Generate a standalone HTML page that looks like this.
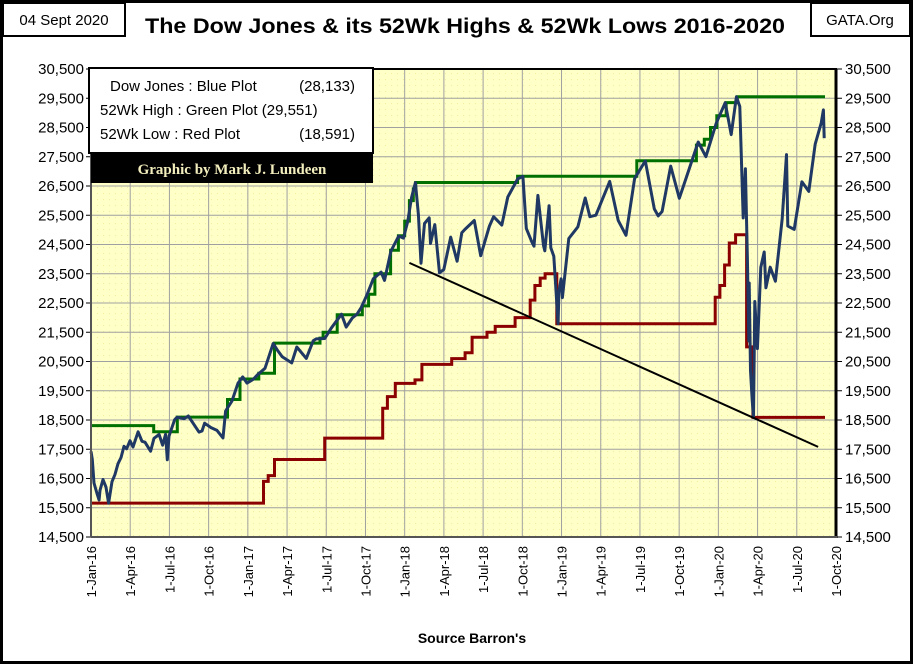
<!DOCTYPE html>
<html><head><meta charset="utf-8">
<style>
html,body{margin:0;padding:0;background:#fff;}
body{width:913px;height:664px;overflow:hidden;font-family:"Liberation Sans",sans-serif;}
</style></head>
<body>
<svg id="chart" width="913" height="664" viewBox="0 0 913 664" xmlns="http://www.w3.org/2000/svg">
<defs>
<pattern id="dots" width="6" height="6" patternUnits="userSpaceOnUse"><rect width="6" height="6" fill="#ffffc8"/><circle cx="1.5" cy="1.5" r="0.6" fill="#f2efa0"/></pattern>
</defs>
<rect x="1.5" y="1.5" width="910" height="661" fill="#fff" stroke="#000" stroke-width="3"/>
<rect x="91" y="69" width="745" height="468" fill="url(#dots)"/>
<g id="grid"></g>
<g id="yl"></g>
<g id="yr"></g>
<g id="xl"></g>
<g id="series"></g>
<line x1="91" y1="69" x2="837" y2="69" stroke="#000" stroke-width="2"/>
<line x1="91" y1="69" x2="91" y2="537" stroke="#555" stroke-width="2"/>
<line x1="836" y1="69" x2="836" y2="538" stroke="#000" stroke-width="3"/>
<line x1="91" y1="537" x2="837" y2="537" stroke="#555" stroke-width="2"/>
<g>
<rect x="89" y="68" width="284" height="85" fill="#fff" stroke="#000" stroke-width="2"/>
<g font-family="'Liberation Sans Narrow','Liberation Sans',sans-serif" font-size="15" fill="#000">
<text x="110" y="91">Dow Jones : Blue Plot</text>
<text x="355" y="91" text-anchor="end">(28,133)</text>
<text x="100" y="115">52Wk High : Green Plot (29,551)</text>
<text x="100" y="139">52Wk Low  : Red Plot</text>
<text x="355" y="139" text-anchor="end">(18,591)</text>
</g>
<rect x="91" y="153" width="282" height="30" fill="#000"/>
<text x="232" y="174" text-anchor="middle" font-family="'Liberation Serif',serif" font-weight="bold" font-size="15" fill="#f3eebd">Graphic by Mark J. Lundeen</text>
</g>
<rect x="3" y="3" width="122" height="33" fill="#fff" stroke="#000" stroke-width="2"/>
<text x="64" y="25" text-anchor="middle" font-size="15">04 Sept 2020</text>
<rect x="811" y="3" width="99" height="33" fill="#fff" stroke="#000" stroke-width="2"/>
<text x="860" y="25" text-anchor="middle" font-size="15">GATA.Org</text>
<text x="465" y="33" text-anchor="middle" font-size="21" font-weight="bold" textLength="640" lengthAdjust="spacingAndGlyphs">The Dow Jones &amp; its 52Wk Highs &amp; 52Wk Lows 2016-2020</text>
<text x="472" y="643" text-anchor="middle" font-size="14" font-weight="bold">Source Barron's</text>
</svg>
<script>
const yTicks=[14500,15500,16500,17500,18500,19500,20500,21500,22500,23500,24500,25500,26500,27500,28500,29500,30500];
const xTickLabels=["1-Jan-16","1-Apr-16","1-Jul-16","1-Oct-16","1-Jan-17","1-Apr-17","1-Jul-17","1-Oct-17","1-Jan-18","1-Apr-18","1-Jul-18","1-Oct-18","1-Jan-19","1-Apr-19","1-Jul-19","1-Oct-19","1-Jan-20","1-Apr-20","1-Jul-20","1-Oct-20"];
const dowDates=["2016-01-01","2016-01-04","2016-01-08","2016-01-15","2016-01-20","2016-01-22","2016-01-29","2016-02-05","2016-02-11","2016-02-19","2016-02-26","2016-03-04","2016-03-11","2016-03-18","2016-03-24","2016-04-01","2016-04-08","2016-04-20","2016-04-29","2016-05-06","2016-05-19","2016-05-27","2016-06-08","2016-06-16","2016-06-23","2016-06-27","2016-07-01","2016-07-14","2016-07-20","2016-08-05","2016-08-15","2016-08-26","2016-09-09","2016-09-16","2016-09-22","2016-10-07","2016-10-21","2016-11-04","2016-11-10","2016-11-25","2016-12-09","2016-12-20","2016-12-30","2017-01-13","2017-01-25","2017-02-10","2017-03-01","2017-03-10","2017-03-22","2017-04-13","2017-04-25","2017-05-17","2017-06-02","2017-06-09","2017-06-29","2017-07-14","2017-08-07","2017-08-18","2017-09-01","2017-09-12","2017-09-22","2017-10-05","2017-10-20","2017-11-07","2017-11-15","2017-11-30","2017-12-18","2017-12-29","2018-01-08","2018-01-17","2018-01-26","2018-02-02","2018-02-08","2018-02-16","2018-02-27","2018-03-02","2018-03-12","2018-03-23","2018-04-02","2018-04-18","2018-05-03","2018-05-14","2018-05-21","2018-06-12","2018-06-27","2018-07-17","2018-07-27","2018-08-15","2018-08-29","2018-09-21","2018-10-03","2018-10-11","2018-10-24","2018-10-29","2018-11-07","2018-11-20","2018-11-23","2018-12-03","2018-12-07","2018-12-14","2018-12-24","2018-12-26","2018-12-31","2019-01-03","2019-01-18","2019-02-08","2019-02-25","2019-03-08","2019-03-22","2019-04-23","2019-05-13","2019-05-31","2019-06-20","2019-07-15","2019-08-05","2019-08-14","2019-08-23","2019-09-12","2019-10-02","2019-10-18","2019-11-15","2019-12-03","2019-12-27","2020-01-17","2020-01-31","2020-02-12","2020-02-20","2020-02-28","2020-03-04","2020-03-09","2020-03-12","2020-03-13","2020-03-16","2020-03-20","2020-03-23","2020-03-26","2020-04-01","2020-04-09","2020-04-17","2020-04-21","2020-05-01","2020-05-13","2020-05-29","2020-06-08","2020-06-11","2020-06-26","2020-07-14","2020-07-30","2020-08-14","2020-08-28","2020-09-02","2020-09-04"];
const dowValues=[17425,17149,16346,15988,15766,16093,16466,16204,15660,16392,16639,17006,17213,17602,17515,17792,17577,18096,17773,17740,17435,17873,18005,17640,18011,17140,17949,18506,18595,18543,18636,18395,18085,18123,18392,18240,18145,17888,18807,19152,19757,19974,19763,19885,20069,20269,21115,20903,20661,20453,20996,20607,21206,21272,21287,21638,22118,21675,21988,22118,22350,22775,23329,23557,23272,24272,24792,24719,25283,26116,26616,25521,23860,25219,25410,24538,25179,23533,23644,24748,23930,24900,25013,25320,24117,25119,25451,25162,26124,26743,26828,25052,24583,24443,26180,24465,24286,25826,24389,24100,21792,22878,23327,22686,24706,25106,26091,25450,25502,26656,25324,24815,26753,27359,25717,25479,25628,27182,26078,26770,28004,27503,28645,29348,28256,29551,29219,25409,27091,23851,21200,23185,20189,19174,18592,22552,20943,23719,24242,23019,23724,23247,25383,27572,25128,25016,26643,26314,27931,28654,29100,28133];
const highYears=[2016.0,2016.38,2016.40,2016.52,2016.55,2016.84,2016.87,2016.95,2017.07,2017.17,2017.43,2017.46,2017.48,2017.57,2017.69,2017.73,2017.77,2017.81,2017.91,2017.96,2018.0,2018.03,2018.055,2018.07,2018.72,2019.48,2019.83,2019.86,2019.91,2019.95,2019.99,2020.05,2020.12,2020.68];
const highValues=[18310,18310,18100,18100,18600,18600,19200,19900,20100,21130,21130,21300,21500,22100,22100,22400,22800,23500,24300,24800,25300,26000,26400,26620,26830,27360,27360,27900,28100,28500,28900,29350,29550,29550];
const lowYears=[2016.0,2017.10,2017.13,2017.17,2017.49,2017.86,2017.89,2017.94,2018.066,2018.11,2018.30,2018.385,2018.43,2018.525,2018.577,2018.704,2018.80,2018.83,2018.864,2018.895,2018.97,2019.98,2020.01,2020.04,2020.07,2020.11,2020.18,2020.22,2020.68];
const lowValues=[15660,16400,16600,17150,17880,18900,19300,19750,19870,20400,20600,20800,21330,21500,21700,22000,22600,23100,23350,23500,21790,22700,23100,23800,24550,24830,21000,18590,18590];
const trendYears=[2018.03,2020.636];
const trendValues=[23870,17580];

const NS="http://www.w3.org/2000/svg";
const X0=91,X1=836,Y0=69,Y1=537,T0=2016,T1=2020.75,V0=14500,V1=30500;
function tYear(s){const p=s.split("-").map(Number);const d0=Date.UTC(p[0],0,1),d1=Date.UTC(p[0]+1,0,1);return p[0]+(Date.UTC(p[0],p[1]-1,p[2])-d0)/(d1-d0);}
function xs(t){return X0+(t-T0)/(T1-T0)*(X1-X0);}
function ys(v){return Y1-(v-V0)/(V1-V0)*(Y1-Y0);}
function mk(tag,attrs,parent){const e=document.createElementNS(NS,tag);for(const k in attrs)e.setAttribute(k,attrs[k]);parent.appendChild(e);return e;}
const grid=document.getElementById("grid"),yl=document.getElementById("yl"),yr=document.getElementById("yr"),xl=document.getElementById("xl"),ser=document.getElementById("series");
yTicks.forEach(v=>{
  const y=ys(v);
  const g=mk("line",{x1:X0,x2:X1,y1:y,y2:y,stroke:"#a0a0a0","stroke-width":1},grid);
  
  
  const t1=mk("text",{x:84,y:y+5,"text-anchor":"end","font-size":15,"font-family":"'Liberation Sans Narrow','Liberation Sans',sans-serif"},yl);
  t1.textContent=v.toLocaleString("en-US");
  
  
  mk("line",{x1:86,x2:91,y1:y,y2:y,stroke:"#000"},yl);
  const t2=mk("text",{x:845,y:y+5,"text-anchor":"start","font-size":15,"font-family":"'Liberation Sans Narrow','Liberation Sans',sans-serif"},yr);
  t2.textContent=v.toLocaleString("en-US");
  
  
  mk("line",{x1:836,x2:842,y1:y,y2:y,stroke:"#000"},yr);
});
xTickLabels.forEach((lab,i)=>{
  const x=xs(T0+i*0.25);
  const g=mk("line",{x1:x,x2:x,y1:Y0,y2:Y1,stroke:"#a0a0a0","stroke-width":1},grid);
  
  
  const t=mk("text",{x:0,y:0,"text-anchor":"end","font-size":13,transform:`translate(${x+5},546) rotate(-90)`},xl);
  t.textContent=lab;
  
  
});
function linePath(t,v){let s="";for(let i=0;i<t.length;i++){s+=(i?"L":"M")+xs(t[i]).toFixed(1)+","+ys(v[i]).toFixed(1);}return s;}
function stepPath(t,v){let s="M"+xs(t[0]).toFixed(1)+","+ys(v[0]).toFixed(1);for(let i=1;i<t.length;i++){s+="L"+xs(t[i]).toFixed(1)+","+ys(v[i-1]).toFixed(1)+"L"+xs(t[i]).toFixed(1)+","+ys(v[i]).toFixed(1);}return s;}
const low=mk("path",{d:stepPath(lowYears,lowValues),fill:"none",stroke:"#8b0000","stroke-width":3},ser);


const high=mk("path",{d:stepPath(highYears,highValues),fill:"none",stroke:"#007000","stroke-width":3},ser);


const dow=mk("path",{d:linePath(dowDates.map(tYear),dowValues),fill:"none",stroke:"#1f3864","stroke-width":3,"stroke-linejoin":"round"},ser);


const tr=mk("path",{d:linePath(trendYears,trendValues),fill:"none",stroke:"#000","stroke-width":2},ser);


</script>
</body></html>
